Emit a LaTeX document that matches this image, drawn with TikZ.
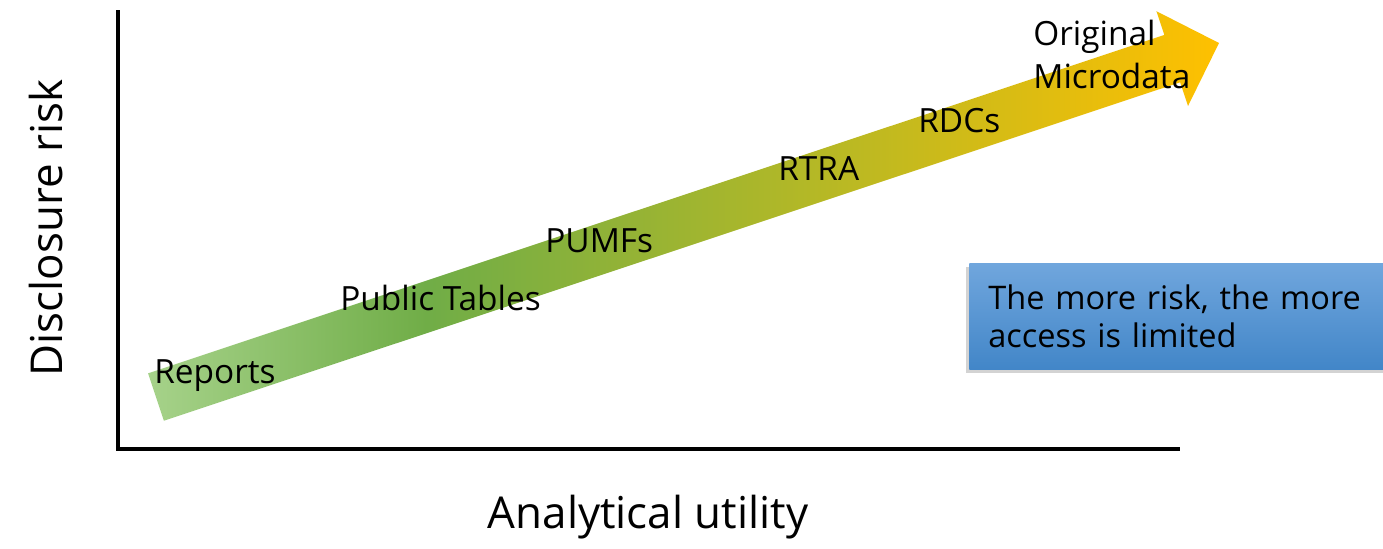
\documentclass[tikz,border=0pt]{standalone}
\usepackage{fontspec}
\setmainfont{Open Sans}
\usetikzlibrary{shadows}

\definecolor{tailgreen}{RGB}{166,210,138}
\definecolor{leafgreen}{RGB}{112,173,71}
\definecolor{olivegold}{RGB}{180,184,38}
\definecolor{gold}{RGB}{255,192,0}
\definecolor{boxtop}{RGB}{112,166,221}
\definecolor{boxbottom}{RGB}{66,134,200}

% green to gold along the arrow (middle 25bp--75bp is the path)
\pgfdeclarehorizontalshading{riskshade}{100bp}{color(0bp)=(tailgreen); color(25bp)=(tailgreen);
  color(38bp)=(leafgreen); color(56bp)=(olivegold); color(75bp)=(gold); color(100bp)=(gold)}

\tikzset{
  axisline/.style={line width=0.08cm,black,line join=miter},
  steplabel/.style={inner sep=0pt,anchor=base west,font=\fontsize{19}{23}\selectfont},
  axislabel/.style={inner sep=0pt,anchor=base,font=\fontsize{25}{30}\selectfont},
  notebox/.style={rectangle,anchor=north west,align=left,inner xsep=0.38cm,inner ysep=0pt,
    minimum width=8.6cm,minimum height=2.12cm,top color=boxtop,bottom color=boxbottom,
    font=\fontsize{18.5}{23}\selectfont,text width=7.84cm,
    drop shadow={shadow xshift=-0.06cm,shadow yshift=-0.08cm,opacity=0.35}}
}

\begin{document}
\begin{tikzpicture}[x=0.02cm,y=-0.02cm]

  \clip (0,0) rectangle (1383,548); % page size

  % axes
  \coordinate (ytop) at (118,10);
  \coordinate (origin) at (118,449);
  \coordinate (xend) at (1180,449);
  \draw[axisline] (ytop) -- (origin) -- (xend);

  % the big arrow
  \coordinate (tailtop) at (148.1,373.3);
  \coordinate (tailbot) at (163.9,420.7);
  \coordinate (necktop) at (1164.3,34.9);
  \coordinate (neckbot) at (1180.1,82.3);
  \coordinate (headtop) at (1156.4,11.2);
  \coordinate (headbot) at (1188.0,106.0);
  \coordinate (tip) at (1219,43);
  \shade[shading=riskshade] (tailtop) -- (necktop) -- (headtop) -- (tip)
    -- (headbot) -- (neckbot) -- (tailbot) -- cycle;

  % steps along the arrow
  \node[steplabel] (reports) at (154,383) {Reports};
  \node[steplabel] (tables) at (340,310) {Public Tables};
  \node[steplabel] (pumfs) at (545,252) {PUMFs};
  \node[steplabel] (rtra) at (778,180) {RTRA};
  \node[steplabel] (rdcs) at (918,132) {RDCs};
  \node[steplabel] (orig) at (1033,45) {Original};
  \node[steplabel] (micro) at (1033,88) {Microdata};

  % axis titles
  \node[axislabel] (xtitle) at (648,528) {Analytical utility};
  \node[axislabel,rotate=90] (ytitle) at (62,228) {Disclosure risk};

  \node[notebox] (note) at (969,263) {The more risk, the more\\[-1pt] access is limited};

\end{tikzpicture}
\end{document}
